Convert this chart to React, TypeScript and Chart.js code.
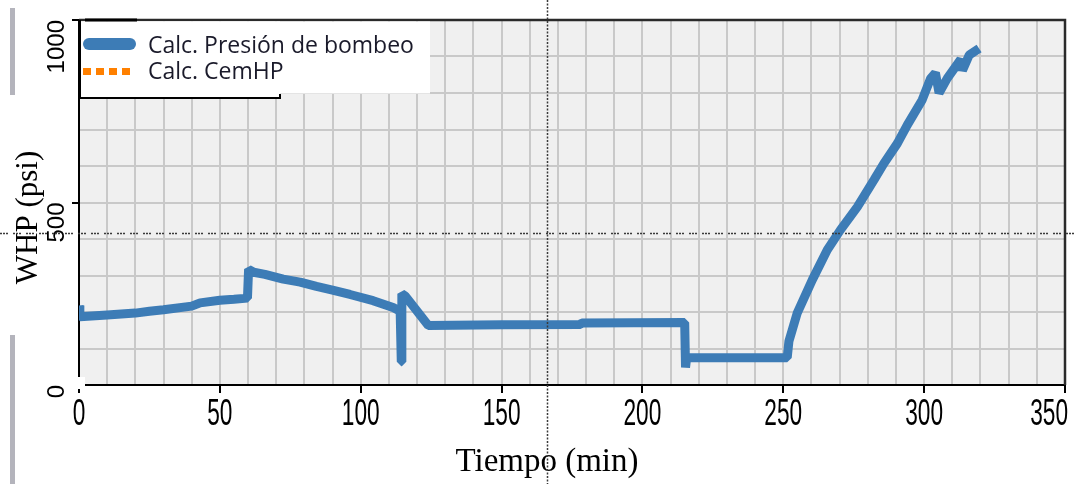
import { useEffect, useRef } from 'react';
import { Chart, registerables, LinearScale } from 'chart.js';

// ---- data ----
const timeMin = [
  0, 0.3, 10, 20, 25, 30, 40, 43, 50, 55, 59.8, 60.2, 62, 66, 72.5, 78.5, 84.3, 90, 96.2, 104.4,
  111.5, 114.0, 114.4, 114.6, 115.8, 124, 150, 178, 178.5, 215, 215.3, 215.7, 251.4, 252, 254.9,
  260.3, 265.6, 270.3, 276.3, 282.2, 285.7, 290.5, 294, 299.3, 302.3, 304, 305.3, 308.2, 313,
  313.6, 316, 319.5,
];
const pumpPressurePsi = [
  218, 187, 192, 197, 202, 206, 216, 225, 232, 235, 238, 317, 309, 303, 290, 282, 270, 260, 248, 231,
  212, 202, 64, 250, 244, 163, 165, 166, 170, 171, 48, 75, 75, 120, 196,
  288, 370, 425, 488, 562, 607, 662, 712, 781, 840, 855, 800, 840, 892,
  862, 904, 922,
];
const cemHpPsi: number[] = [];
const seriesLabels = ['Calc. Presión de bombeo', 'Calc. CemHP'];
const xTickLabels = [0, 50, 100, 150, 200, 250, 300, 350];
const yTickLabels = [0, 500, 1000];
const xTitle = 'Tiempo (min)';
const yTitle = 'WHP (psi)';
const cursorT = 166;
const cursorV = 416;

const BLUE = '#3d7cb6';
const ORANGE = '#ff8000';
const GRID = '#c9c9c9';

// linear scale whose tick labels are drawn horizontally condensed (narrow digits)
class CondensedLinearScale extends (LinearScale as any) {
  static id = 'condensedLinear';
  static defaults = (LinearScale as any).defaults;
  drawLabels(chartArea: any) {
    const self: any = this;
    const ctx = self.ctx;
    const sx = self.options.ticks.condense ?? 1;
    const items = self.getLabelItems(chartArea);
    for (const item of items) {
      if (!item.label) continue;
      const o = item.options;
      ctx.save();
      ctx.translate(o.translation[0], o.translation[1]);
      if (o.rotation) ctx.rotate(o.rotation);
      ctx.scale(sx, 1);
      ctx.font = item.font.string;
      ctx.fillStyle = o.color;
      ctx.textAlign = o.textAlign;
      ctx.textBaseline = o.textBaseline;
      ctx.fillText(String(item.label), 0, item.textOffset);
      ctx.restore();
    }
  }
}

Chart.register(...registerables, CondensedLinearScale as any);

const decor = {
  id: 'decor',
  beforeDraw(chart: any) {
    const { ctx, chartArea: a } = chart;
    ctx.save();
    ctx.fillStyle = '#f0f0f0';
    ctx.fillRect(a.left, a.top, a.right - a.left, a.bottom - a.top);
    ctx.restore();
    // keep the last x label inside the canvas (right-aligned like the reference)
    const items = chart.scales.x.getLabelItems();
    for (const it of items) {
      if (it.label === String(xTickLabels[xTickLabels.length - 1])) {
        it.options.textAlign = 'right';
        it.options.translation[0] += 3;
      }
    }
  },
  afterDraw(chart: any) {
    const { ctx, chartArea: a } = chart;
    const xs = chart.scales.x;
    const ys = chart.scales.y;
    ctx.save();
    // top & right frame
    ctx.strokeStyle = '#2a2a2a';
    ctx.lineWidth = 2.5;
    ctx.beginPath();
    ctx.moveTo(a.left, a.top);
    ctx.lineTo(a.right, a.top);
    ctx.lineTo(a.right, a.bottom);
    ctx.stroke();
    // corner gap
    ctx.fillStyle = '#ffffff';
    ctx.fillRect(a.left - 8, a.bottom - 8, 14, 12);

    // legend box
    ctx.fillStyle = '#ffffff';
    ctx.fillRect(a.left + 1, a.top + 1.5, 350, 72);
    ctx.fillRect(a.left + 1, a.top + 1.5, 200, 77);
    ctx.strokeStyle = '#000';
    ctx.lineWidth = 2;
    ctx.beginPath();
    ctx.moveTo(a.left + 1, a.top);
    ctx.lineTo(a.left + 1, a.top + 78);
    ctx.lineTo(a.left + 201, a.top + 78);
    ctx.lineTo(a.left + 201, a.top + 74);
    ctx.stroke();
    ctx.lineWidth = 3;
    ctx.beginPath();
    ctx.moveTo(a.left + 6, a.top);
    ctx.lineTo(a.left + 58, a.top);
    ctx.stroke();

    const ds = chart.data.datasets;
    // item 1
    ctx.strokeStyle = ds[0].borderColor;
    ctx.lineWidth = 12;
    ctx.lineCap = 'round';
    ctx.beginPath();
    ctx.moveTo(a.left + 10, a.top + 24);
    ctx.lineTo(a.left + 51, a.top + 24);
    ctx.stroke();
    // item 2
    ctx.strokeStyle = ds[1].borderColor;
    ctx.lineCap = 'butt';
    ctx.lineWidth = 7;
    ctx.setLineDash([8, 5]);
    ctx.beginPath();
    ctx.moveTo(a.left + 4, a.top + 51.5);
    ctx.lineTo(a.left + 53, a.top + 51.5);
    ctx.stroke();
    ctx.setLineDash([]);
    ctx.fillStyle = '#1a1a2a';
    ctx.font = '23px "Open Sans", sans-serif';
    ctx.textAlign = 'left';
    ctx.textBaseline = 'alphabetic';
    ctx.fillText(ds[0].label, a.left + 69, a.top + 33);
    ctx.fillText(ds[1].label, a.left + 69, a.top + 59);

    // axis titles
    ctx.fillStyle = '#000';
    ctx.font = '33px "Liberation Serif", "Times New Roman", serif';
    ctx.textAlign = 'center';
    ctx.fillText(xTitle, 547, 471);
    ctx.save();
    ctx.translate(37, 217.5);
    ctx.rotate(-Math.PI / 2);
    ctx.font = '31px "Liberation Serif", "Times New Roman", serif';
    ctx.fillText(yTitle, 0, 0);
    ctx.restore();

    // left gray bars
    ctx.fillStyle = '#b4b4bc';
    ctx.fillRect(10, 8, 5, 87);
    ctx.fillRect(10, 335, 5, 149);

    // cursor crosshair
    const cx = Math.round(xs.getPixelForValue(cursorT)) + 0.5;
    const cy = Math.round(ys.getPixelForValue(cursorV)) + 0.5;
    ctx.strokeStyle = '#3a3a3a';
    ctx.lineWidth = 1.5;
    ctx.setLineDash([2, 1.5]);
    ctx.beginPath();
    ctx.moveTo(cx, 0);
    ctx.lineTo(cx, chart.height);
    ctx.stroke();
    ctx.setLineDash([2, 1, 2, 1, 2, 5]);
    ctx.beginPath();
    ctx.moveTo(0, cy);
    ctx.lineTo(chart.width, cy);
    ctx.stroke();
    ctx.restore();
  },
};

export default function App() {
  const ref = useRef<HTMLCanvasElement>(null);
  useEffect(() => {
    document.body.style.margin = '0';
    const chart = new Chart(ref.current!, {
      type: 'line',
      data: {
        datasets: [
          {
            label: seriesLabels[0],
            data: timeMin.map((t, i) => ({ x: t, y: pumpPressurePsi[i] })),
            borderColor: BLUE,
            backgroundColor: BLUE,
            borderWidth: 9,
            pointRadius: 0,
            fill: false,
            tension: 0,
            borderJoinStyle: 'bevel',
            borderCapStyle: 'butt',
          },
          {
            label: seriesLabels[1],
            data: cemHpPsi.map((v, i) => ({ x: timeMin[i], y: v })),
            borderColor: ORANGE,
            backgroundColor: ORANGE,
            borderWidth: 5,
            borderDash: [6, 4],
            pointRadius: 0,
            fill: false,
          },
        ],
      },
      options: {
        responsive: false,
        animation: false,
        events: [],
        layout: { padding: { top: 20, right: 11, left: 0, bottom: 0 } },
        plugins: { legend: { display: false }, tooltip: { enabled: false } },
        scales: {
          x: {
            type: 'condensedLinear',
            min: 0,
            max: 350,
            afterFit(s: any) {
              s.height = 99;
              s.paddingLeft = 0;
              s.paddingRight = 0;
            },
            ticks: {
              stepSize: 10,
              autoSkip: false,
              maxRotation: 0,
              minRotation: 0,
              padding: 0,
              condense: 0.63,
              color: '#000',
              font: { family: '"Liberation Sans", Arial, sans-serif', size: 36 },
              callback: (v: any) => (xTickLabels.includes(Number(v)) ? String(v) : ''),
            },
            grid: {
              color: GRID,
              lineWidth: 2,
              tickLength: 8,
              tickColor: (c: any) => (xTickLabels.includes(c.tick?.value) ? '#000' : 'rgba(0,0,0,0)'),
            },
            border: { color: '#000', width: 2 },
          },
          y: {
            type: 'linear',
            min: 0,
            max: 1000,
            afterFit(s: any) {
              s.width = 79;
              s.paddingTop = 0;
              s.paddingBottom = 0;
            },
            ticks: {
              stepSize: 100,
              autoSkip: false,
              minRotation: 90,
              maxRotation: 90,
              padding: 15,
              color: '#000',
              font: { family: '"Liberation Sans", Arial, sans-serif', size: 24 },
              callback: (v: any) => (yTickLabels.includes(Number(v)) ? String(v) : ''),
            },
            grid: {
              color: GRID,
              lineWidth: 2,
              tickLength: 7,
              tickColor: (c: any) => (yTickLabels.includes(c.tick?.value) ? '#000' : 'rgba(0,0,0,0)'),
            },
            border: { color: '#000', width: 2 },
          },
        },
      },
      plugins: [decor],
    } as any);
    return () => chart.destroy();
  }, []);
  return <canvas ref={ref} width={1076} height={484} style={{ display: 'block' }} />;
}
